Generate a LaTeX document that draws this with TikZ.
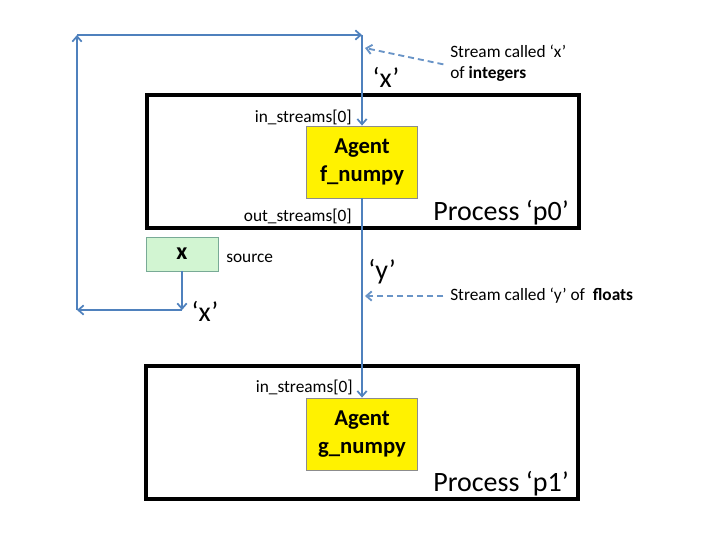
\documentclass[tikz,border=0pt]{standalone}
\usepackage{fontspec}
\setmainfont{Carlito}
\usetikzlibrary{arrows.meta}
\definecolor{lnblue}{RGB}{79,129,189}
\definecolor{srcfill}{RGB}{210,245,210}
\definecolor{srcdraw}{RGB}{120,170,150}
\tikzset{
  procbox/.style={draw=black, line width=3pt, minimum width=324pt, minimum height=99.75pt, inner sep=0pt},
  agentbox/.style={draw=black!45, line width=0.6pt, fill=yellow, minimum width=83.25pt, minimum height=54pt, align=center, font=\fontsize{17}{21}\selectfont\bfseries, inner sep=0pt},
  srcbox/.style={draw=srcdraw, line width=0.6pt, fill=srcfill, minimum width=54pt, minimum height=25.5pt, font=\fontsize{18}{21}\selectfont\bfseries, inner sep=0pt},
  flow/.style={draw=lnblue, line width=1.3pt, -{Straight Barb[length=4pt,width=7pt]}},
  note/.style={draw=lnblue!85, line width=1.4pt, dash pattern=on 4.5pt off 3pt, -{Straight Barb[length=4pt,width=7pt]}},
  small/.style={font=\fontsize{13}{15.5}\selectfont, inner sep=0pt},
  big/.style={font=\fontsize{21}{24}\selectfont, inner sep=0pt},
}
\begin{document}
\begin{tikzpicture}[x=0.75pt,y=-0.75pt]
\useasboundingbox (0,0) rectangle (720,540);
% process boxes
\node[procbox] (p0) at (363,161.5) {};
\node[procbox] (p1) at (362,432) {};
% agents
\node[agentbox] (f) at (362,162) {Agent\\f\_numpy};
\node[agentbox] (g) at (362,434) {Agent\\g\_numpy};
% source
\node[srcbox] (src) at (182,254) {x};
\node[small, anchor=west] (srclbl) at (226,258) {source};
% corners of the loop
\coordinate (c1) at (182,310);
\coordinate (c2) at (77,310);
\coordinate (c3) at (77,35);
\coordinate (c4) at (362,35);
\draw[flow] (src.south) -- (c1);
\draw[flow] (c1) -- (c2);
\draw[flow] (c2) -- (c3);
\draw[flow] (c3) -- (c4);
\draw[flow] (c4) -- (f.north);
\draw[flow] (f.south) -- (g.north);
% labels
\node[big] (xlbl1) at (386,77) {‘x’};
\node[big] (xlbl2) at (205,311) {‘x’};
\node[big] (ylbl) at (382,272) {‘y’};
\node[small, anchor=east] (in0) at (352,117) {in\_streams[0]};
\node[small, anchor=east] (out0) at (352,216) {out\_streams[0]};
\node[small, anchor=east] (in1) at (353,387) {in\_streams[0]};
\node[big, anchor=east] (p0lbl) at (569,213) {Process ‘p0’};
\node[big, anchor=east] (p1lbl) at (569,484) {Process ‘p1’};
% notes
\node[small, anchor=west, align=left] (sx) at (450,63) {Stream called ‘x’\\of \textbf{integers}};
\node[small, anchor=west] (sy) at (450,296) {Stream called ‘y’ of\ \ \textbf{floats}};
\coordinate (xpt) at (365,48);
\coordinate (ypt) at (365,296);
\draw[note] ([xshift=-5pt,yshift=-1pt]sx.west) -- (xpt);
\draw[note] ([xshift=-5pt]sy.west) -- (ypt);
\end{tikzpicture}
\end{document}
